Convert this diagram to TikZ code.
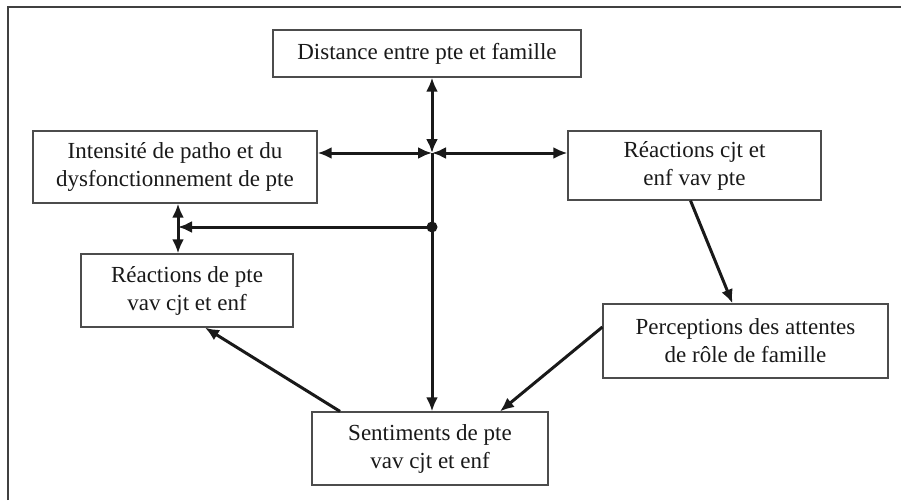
\documentclass[tikz,border=0pt]{standalone}
\usepackage{fontspec}
\setmainfont{Liberation Serif}
\usetikzlibrary{arrows.meta}
\begin{document}
\begin{tikzpicture}[x=1pt,y=-1pt,
  box/.style={draw=black!70,line width=1.2pt,fill=white,align=center,
    inner sep=0pt,text=black!90,font=\fontsize{23}{28}\selectfont},
  link/.style={line width=3pt,black!90,arrows={-Latex[length=14pt,width=12pt]}},
  both/.style={link,arrows={Latex[length=14pt,width=12pt]-Latex[length=14pt,width=12pt]}}]
\useasboundingbox (0,0) rectangle (901,500);
% outer frame (left and top edges)
\draw[line width=1.5pt,black!75] (8,500) -- (8,7) -- (901,7);

% boxes
\node[box,minimum width=308pt,minimum height=47pt] (dist) at (427,53.5) {Distance entre pte et famille};
\node[box,minimum width=284pt,minimum height=72pt] (intens) at (175,167) {Intensité de patho et du\\dysfonctionnement de pte};
\node[box,minimum width=253pt,minimum height=69pt] (reacj) at (694.5,165.5) {Réactions cjt et\\enf vav pte};
\node[box,minimum width=212pt,minimum height=73pt] (reacp) at (187,290.5) {Réactions de pte\\vav cjt et enf};
\node[box,minimum width=285pt,minimum height=74pt] (percep) at (745.5,341) {Perceptions des attentes\\de rôle de famille};
\node[box,minimum width=236pt,minimum height=73pt] (sentim) at (430,448.5) {Sentiments de pte\\vav cjt et enf};

% junction points
\coordinate (J) at (432,153);
\coordinate (D) at (432,227);
\coordinate (L) at (178,227);

% links through the central junction
\draw[both] (J |- dist.south) -- (J);
\draw[both] (J -| intens.east) -- (J);
\draw[both] (J -| reacj.west) -- (J);
\draw[link] (J) -- (J |- sentim.north);
\fill[black!90] (D) circle (5.5pt);
\draw[link] (D) -- (L);
\draw[both] (L |- intens.south) -- (L |- reacp.north);

% diagonal links
\draw[link] ([xshift=-4pt]reacj.south) -- ([xshift=-13pt]percep.north);
\draw[link] ([yshift=14pt]percep.west) -- ([xshift=70pt]sentim.north);
\draw[link] ([xshift=-90pt]sentim.north) -- ([xshift=18pt]reacp.south);
\end{tikzpicture}
\end{document}
